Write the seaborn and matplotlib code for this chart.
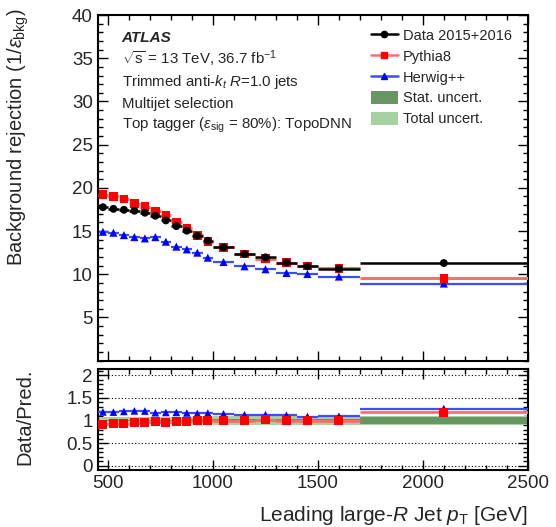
import matplotlib
matplotlib.use("Agg")
import matplotlib.pyplot as plt
from matplotlib.ticker import MultipleLocator
from matplotlib.lines import Line2D
from matplotlib.patches import Patch
import seaborn as sns
import numpy as np
import pandas as pd

# bin edges in leading large-R jet pT [GeV]
bin_lo = [450, 500, 550, 600, 650, 700, 750, 800, 850, 900, 950, 1000, 1100, 1200, 1300, 1400, 1500, 1700]
bin_hi = [500, 550, 600, 650, 700, 750, 800, 850, 900, 950, 1000, 1100, 1200, 1300, 1400, 1500, 1700, 2500]

# background rejection 1/eps_bkg
data_rej = [17.76, 17.57, 17.46, 17.35, 17.12, 16.77, 16.23, 15.57, 15.04, 14.46, 13.88, 13.11, 12.34, 11.96, 11.35, 10.92, 10.66, 11.30]
pythia_rej = [19.23, 19.00, 18.73, 18.16, 17.81, 17.27, 16.81, 16.03, 15.31, 14.50, 13.77, 13.11, 12.34, 11.81, 11.35, 10.96, 10.69, 9.54]
herwig_rej = [14.92, 14.81, 14.53, 14.30, 14.15, 14.30, 13.77, 13.20, 12.88, 12.50, 11.92, 11.42, 10.92, 10.58, 10.15, 10.03, 9.73, 8.93]

# relative uncertainties on data (ratio panel bands)
stat_unc = [0.02, 0.02, 0.02, 0.02, 0.02, 0.02, 0.02, 0.02, 0.025, 0.025, 0.025, 0.03, 0.03, 0.035, 0.035, 0.04, 0.04, 0.07]
total_unc = [0.085, 0.085, 0.085, 0.085, 0.085, 0.085, 0.085, 0.085, 0.085, 0.085, 0.085, 0.09, 0.09, 0.09, 0.09, 0.09, 0.09, 0.095]

lo = np.array(bin_lo)
hi = np.array(bin_hi)
centers = (lo + hi) / 2
d = np.array(data_rej)
py8 = np.array(pythia_rej)
hw = np.array(herwig_rej)

df = pd.DataFrame({"pt": centers, "data": d, "py8": py8, "hw": hw,
                   "r_py8": d / py8, "r_hw": d / hw})

sns.set_style("ticks")
plt.rcParams["font.family"] = ["Liberation Sans", "DejaVu Sans"]
plt.rcParams["mathtext.fontset"] = "custom"
plt.rcParams["mathtext.rm"] = "Liberation Sans"
plt.rcParams["mathtext.it"] = "Liberation Sans:italic"
plt.rcParams["mathtext.bf"] = "Liberation Sans:bold"

RED_BAR = "#ff6e6e"
RED = "#ff0000"
BLUE = "#0000ff"
BLUE_BAR = "#3c4cff"
DARK_G = "#679664"
LIGHT_G = "#a5d2a0"

fig = plt.figure(figsize=(5.56, 5.27), dpi=100)
ax1 = fig.add_axes([0.1757, 0.3156, 0.7734, 0.6559])
ax2 = fig.add_axes([0.1757, 0.1082, 0.7734, 0.1910])

# ---- top panel
ax1.hlines(hw, lo, hi, color=BLUE_BAR, lw=1.6, zorder=2)
sns.scatterplot(data=df, x="pt", y="hw", marker="^", color=BLUE, s=34, edgecolor="none", ax=ax1, zorder=3)
ax1.hlines(py8, lo, hi, color=RED_BAR, lw=2.2, zorder=4)
sns.scatterplot(data=df, x="pt", y="py8", marker="s", color=RED, s=38, edgecolor="none", ax=ax1, zorder=5)
ax1.hlines(d, lo, hi, color="black", lw=1.8, zorder=6)
sns.scatterplot(data=df, x="pt", y="data", marker="o", color="black", s=32, edgecolor="none", ax=ax1, zorder=7)

ax1.set_xlim(450, 2500)
ax1.set_ylim(0, 40)
ax1.set_xlabel("")
ax1.set_ylabel("")
ax1.xaxis.set_major_locator(MultipleLocator(500))
ax1.xaxis.set_minor_locator(MultipleLocator(100))
ax1.yaxis.set_minor_locator(MultipleLocator(1))
ax1.tick_params(axis="x", labelbottom=False)
ax1.set_yticks([5, 10, 15, 20, 25, 30, 35, 40])
fig.text(18 / 556, 1 - 8 / 527, r"Background rejection (1/$\epsilon_{\mathrm{bkg}}$)",
         rotation=90, ha="center", va="top", fontsize=14.5)

tx = 0.0558
ax1.text(tx, 0.934, "ATLAS", transform=ax1.transAxes, fontsize=11, fontweight="bold", fontstyle="italic", va="center")
ax1.text(tx, 0.873, r"$\sqrt{\mathrm{s}}$ = 13 TeV, 36.7 fb$^{-1}$", transform=ax1.transAxes, fontsize=10.8, va="center")
ax1.text(tx, 0.807, r"Trimmed anti-$k_{t}$ $R$=1.0 jets", transform=ax1.transAxes, fontsize=10.8, va="center")
ax1.text(tx, 0.743, "Multijet selection", transform=ax1.transAxes, fontsize=10.8, va="center")
ax1.text(tx, 0.682, r"Top tagger ($\epsilon_{\mathrm{sig}}$ = 80%): TopoDNN", transform=ax1.transAxes, fontsize=10.8, va="center")

handles = [
    Line2D([], [], color="black", marker="o", ms=4.5, lw=1.8),
    Line2D([], [], color=RED_BAR, marker="s", ms=5, mfc=RED, mec=RED, lw=1.8),
    Line2D([], [], color=BLUE_BAR, marker="^", ms=5, mfc=BLUE, mec=BLUE, lw=1.8),
    Patch(facecolor=DARK_G, edgecolor="none"),
    Patch(facecolor=LIGHT_G, edgecolor="none"),
]
labels = ["Data 2015+2016", "Pythia8", "Herwig++", "Stat. uncert.", "Total uncert."]
ax1.legend(handles, labels, loc="upper left", bbox_to_anchor=(0.635, 0.962), frameon=False,
           fontsize=10.5, handlelength=1.85, handleheight=1.0, handletextpad=0.35,
           labelspacing=0.44, borderpad=0, borderaxespad=0)

# ---- ratio panel
for yv in [0, 0.5, 1, 1.5, 2]:
    ax2.axhline(yv, color="black", lw=0.8, ls=(0, (1, 2)), zorder=0)
ax2.bar(lo, 2 * np.array(total_unc), width=hi - lo, bottom=1 - np.array(total_unc),
        align="edge", color=LIGHT_G, lw=0, zorder=1)
ax2.bar(lo, 2 * np.array(stat_unc), width=hi - lo, bottom=1 - np.array(stat_unc),
        align="edge", color=DARK_G, lw=0, zorder=2)
ax2.hlines(df["r_hw"], lo, hi, color=BLUE_BAR, lw=1.6, zorder=3)
sns.scatterplot(data=df, x="pt", y="r_hw", marker="^", color=BLUE, s=30, edgecolor="none", ax=ax2, zorder=4)
ax2.hlines(df["r_py8"], lo, hi, color=RED_BAR, lw=2.0, zorder=5)
sns.scatterplot(data=df, x="pt", y="r_py8", marker="s", color=RED, s=42, edgecolor="none", ax=ax2, zorder=6)

ax2.set_xlim(450, 2500)
ax2.set_ylim(-0.09, 2.13)
ax2.set_yticks([0, 0.5, 1, 1.5, 2])
ax2.set_yticklabels(["0", "0.5", "1", "1.5", "2"])
ax2.yaxis.set_minor_locator(MultipleLocator(0.1))
ax2.xaxis.set_major_locator(MultipleLocator(500))
ax2.xaxis.set_minor_locator(MultipleLocator(100))
ax2.set_ylabel("")
fig.text(25 / 556, 1 - 417 / 527, "Data/Pred.", rotation=90, ha="center", va="center", fontsize=14.5)
ax2.set_xlabel(r"Leading large-$R$ Jet $p_{\mathrm{T}}$ [GeV]", fontsize=15, loc="right")
ax2.xaxis.set_label_coords(1.0, -0.34)

for ax in (ax1, ax2):
    ax.tick_params(which="both", direction="in", top=True, right=True, labelsize=13.5, width=1.0, color="black")
    ax.tick_params(which="major", length=7)
    ax.tick_params(which="minor", length=3.5)
    for sp in ax.spines.values():
        sp.set_linewidth(1.5)
        sp.set_color("black")

fig.savefig("out.png", dpi=100)
